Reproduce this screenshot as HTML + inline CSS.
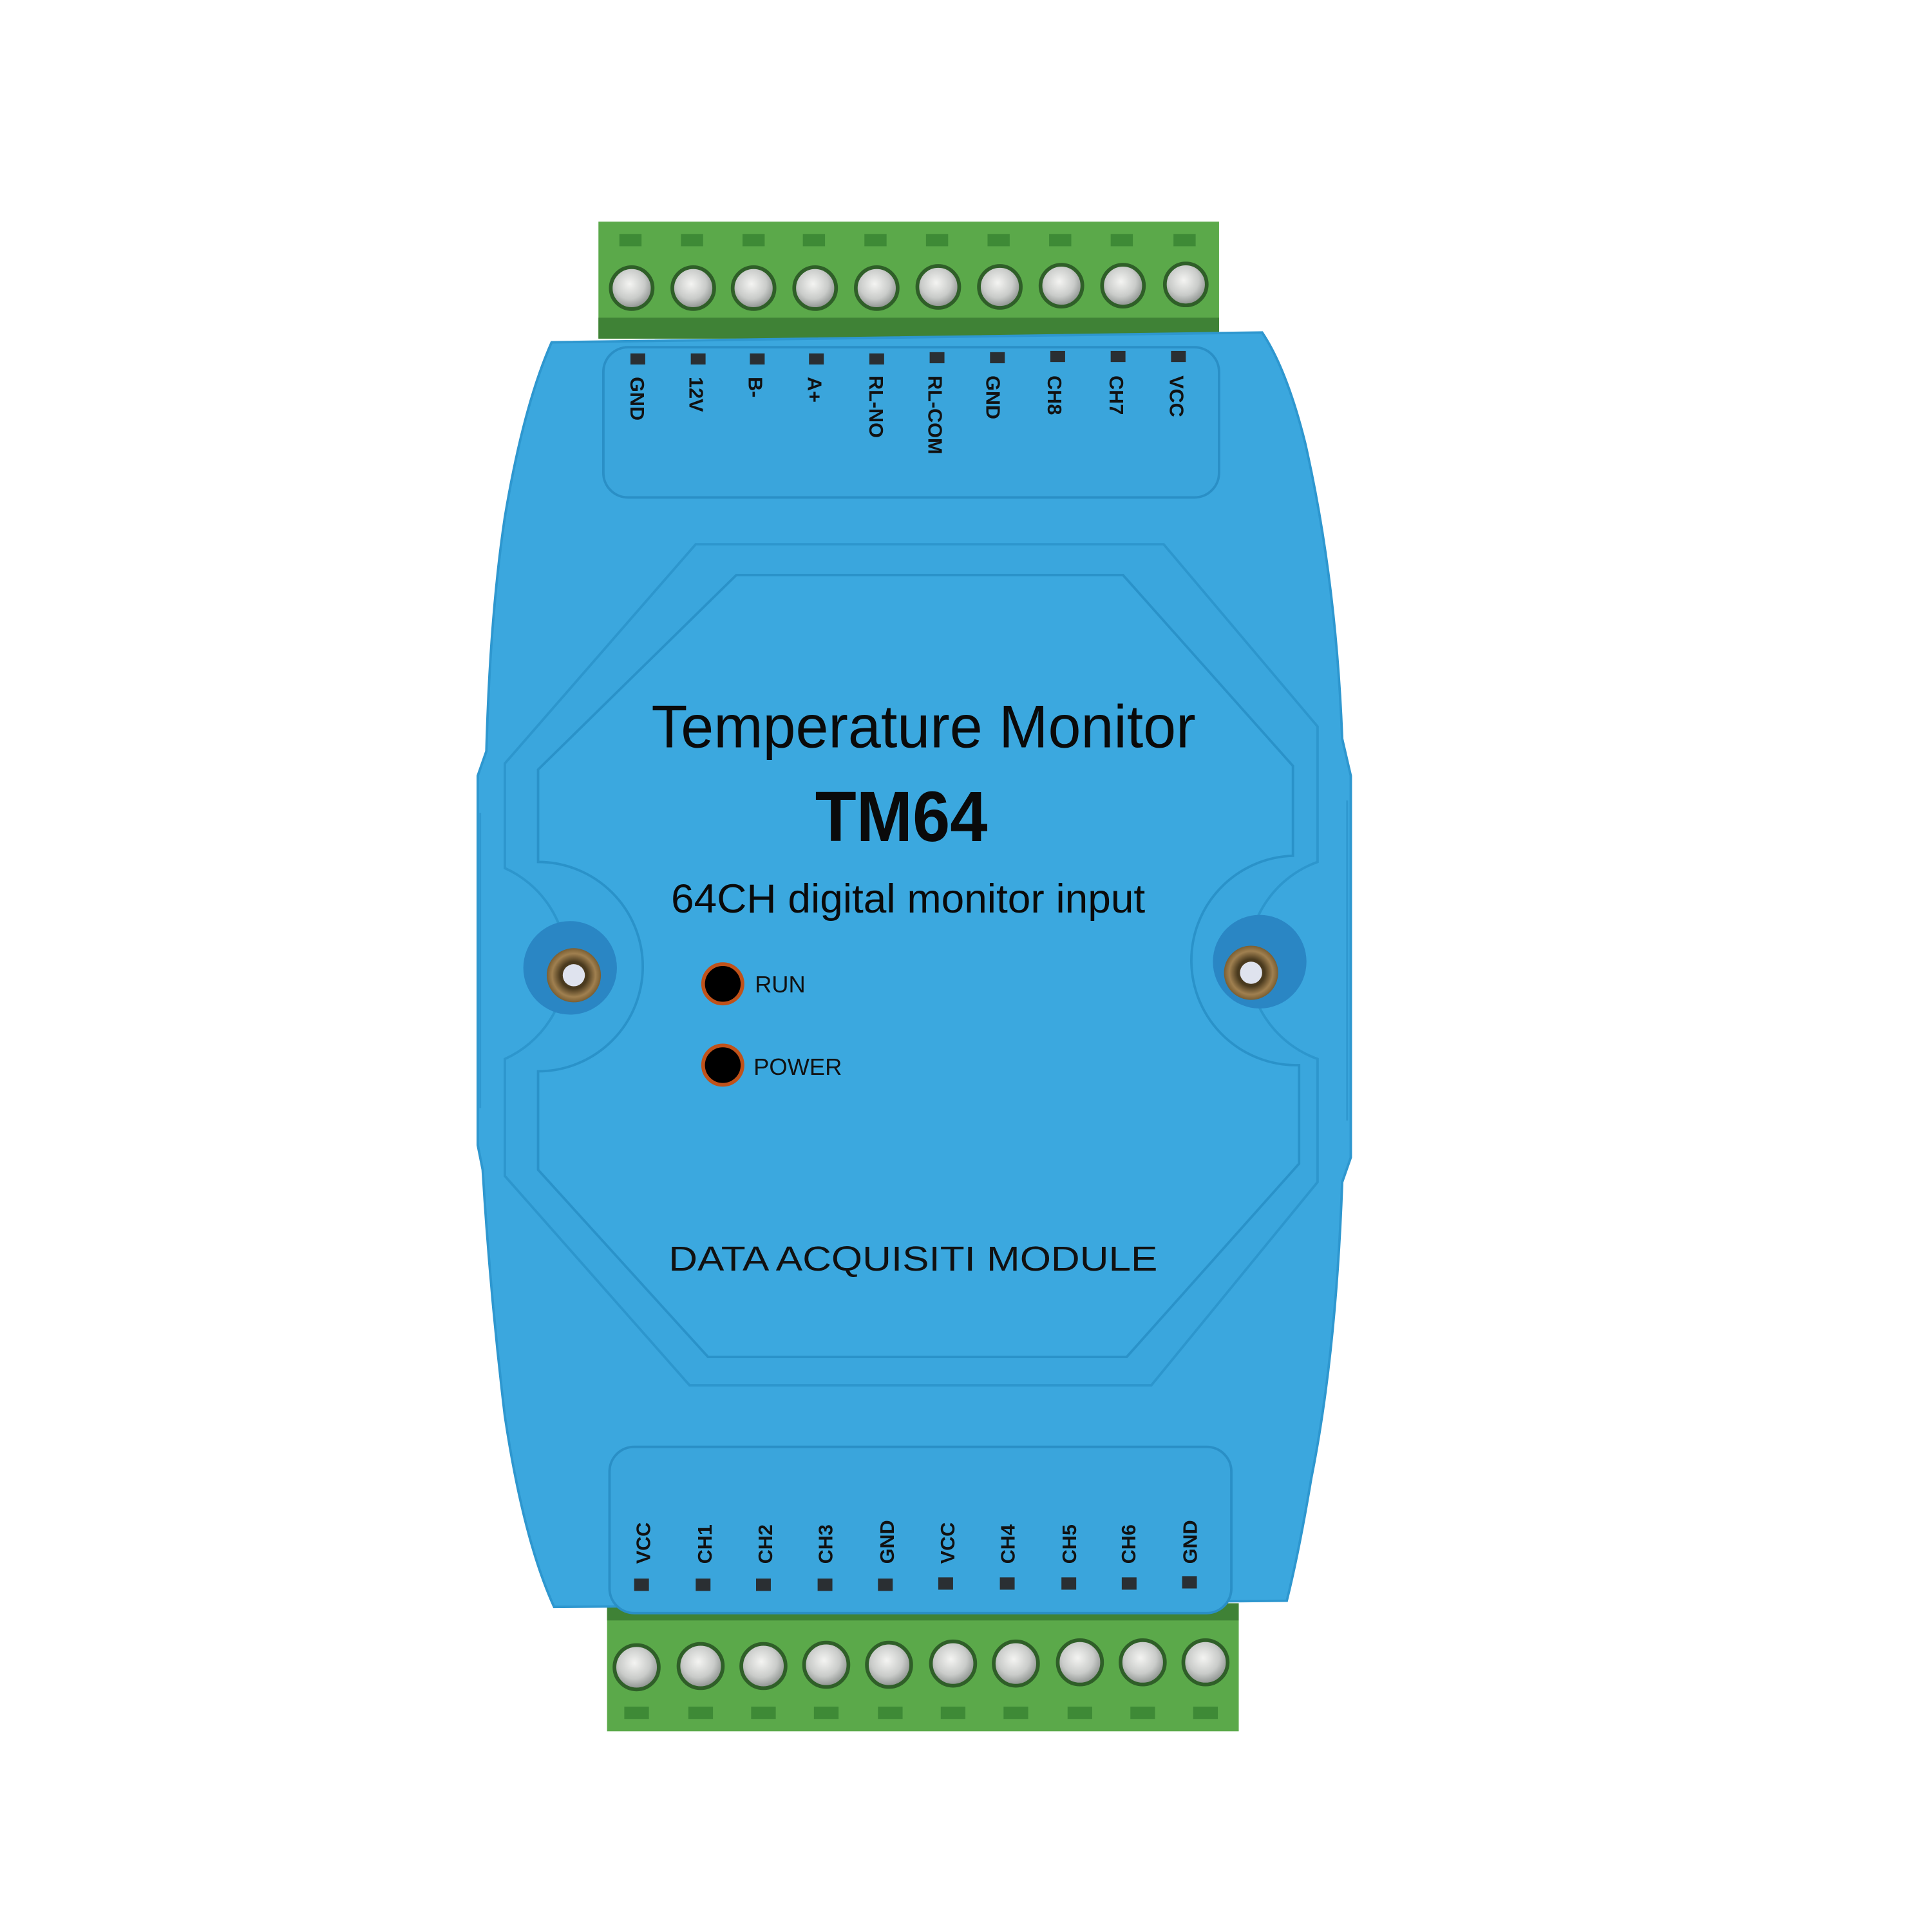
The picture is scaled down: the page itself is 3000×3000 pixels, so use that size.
<!DOCTYPE html>
<html><head><meta charset="utf-8"><style>
html,body{margin:0;padding:0;background:#fff;width:3000px;height:3000px;overflow:hidden}
svg{display:block}
text{font-family:"Liberation Sans",sans-serif}
</style></head><body>
<svg width="3000" height="3000" viewBox="0 0 1569 1569" xmlns="http://www.w3.org/2000/svg">
<defs>
<radialGradient id="scr" cx="45%" cy="40%" r="60%"><stop offset="0" stop-color="#f4f4f2"/><stop offset="0.6" stop-color="#c9cbc9"/><stop offset="1" stop-color="#8a8f8c"/></radialGradient>
<radialGradient id="brass" cx="50%" cy="50%" r="50%"><stop offset="0.5" stop-color="#4a3a1e"/><stop offset="0.8" stop-color="#a08050"/><stop offset="1" stop-color="#7a5e32"/></radialGradient>
</defs>
<rect x="486" y="180" width="504" height="95" fill="#5ba94a"/>
<rect x="486" y="258" width="504" height="17" fill="#3f8236"/>
<g fill="#3e8a36">
<rect x="503" y="190" width="18" height="10"/><rect x="553" y="190" width="18" height="10"/><rect x="603" y="190" width="18" height="10"/><rect x="652" y="190" width="18" height="10"/><rect x="702" y="190" width="18" height="10"/><rect x="752" y="190" width="18" height="10"/><rect x="802" y="190" width="18" height="10"/><rect x="852" y="190" width="18" height="10"/><rect x="902" y="190" width="18" height="10"/><rect x="953" y="190" width="18" height="10"/>
</g>
<g fill="url(#scr)" stroke="#2f5f28" stroke-width="3">
<circle cx="513" cy="234" r="17"/><circle cx="563" cy="234" r="17"/><circle cx="612" cy="234" r="17"/><circle cx="662" cy="234" r="17"/><circle cx="712" cy="234" r="17"/><circle cx="762" cy="233" r="17"/><circle cx="812" cy="233" r="17"/><circle cx="862" cy="232" r="17"/><circle cx="912" cy="232" r="17"/><circle cx="963" cy="231" r="17"/>
</g>
<rect x="493" y="1302" width="513" height="104" fill="#5ba94a"/>
<rect x="493" y="1302" width="513" height="14" fill="#3f8236"/>
<g fill="#3e8a36">
<rect x="507" y="1386" width="20" height="10"/><rect x="559" y="1386" width="20" height="10"/><rect x="610" y="1386" width="20" height="10"/><rect x="661" y="1386" width="20" height="10"/><rect x="713" y="1386" width="20" height="10"/><rect x="764" y="1386" width="20" height="10"/><rect x="815" y="1386" width="20" height="10"/><rect x="867" y="1386" width="20" height="10"/><rect x="918" y="1386" width="20" height="10"/><rect x="969" y="1386" width="20" height="10"/>
</g>
<g fill="url(#scr)" stroke="#2f5f28" stroke-width="3">
<circle cx="517" cy="1354" r="18"/><circle cx="569" cy="1353" r="18"/><circle cx="620" cy="1353" r="18"/><circle cx="671" cy="1352" r="18"/><circle cx="722" cy="1352" r="18"/><circle cx="774" cy="1351" r="18"/><circle cx="825" cy="1351" r="18"/><circle cx="877" cy="1350" r="18"/><circle cx="928" cy="1350" r="18"/><circle cx="979" cy="1350" r="18"/>
</g>
<path d="M448 278 L1025 270 Q1045 300 1060 360 Q1085 470 1090 600 L1097 630 L1097 940 L1090 960 Q1085 1100 1065 1200 Q1055 1260 1045 1300 L450 1305 Q425 1250 410 1150 Q398 1050 392 950 L388 930 L388 630 L395 610 Q398 500 410 420 Q425 330 448 278 Z" fill="#3ba7de" stroke="#2e97cf" stroke-width="2"/>
<rect x="490" y="282" width="500" height="122" rx="20" fill="#3aa5dc" stroke="#2a8fc6" stroke-width="2"/>
<rect x="495" y="1175" width="505" height="135" rx="20" fill="#3aa5dc" stroke="#2a8fc6" stroke-width="2"/>
<path d="M565 442 L945 442 L1070 590 L1070 700 A85 85 0 0 0 1070 860 L1070 960 L935 1125 L560 1125 L410 955 L410 860 A85 85 0 0 0 410 705 L410 620 Z" fill="#3aa6dd" stroke="#2d96cd" stroke-width="2"/>
<path d="M598 467 L912 467 L1050 622 L1050 695 A85 85 0 0 0 1055 865 L1055 945 L915 1102 L575 1102 L437 950 L437 870 A85 85 0 0 0 437 700 L437 625 Z" fill="#3ba8df" stroke="#2a92c9" stroke-width="2"/>
<g stroke="#2f98d0" stroke-width="1.5">
<line x1="390" y1="660" x2="390" y2="900"/><line x1="1094" y1="650" x2="1094" y2="910"/>
</g>
<g fill="#2a2f33">
<rect x="512" y="287" width="12" height="9"/><rect x="561" y="287" width="12" height="9"/><rect x="609" y="287" width="12" height="9"/><rect x="657" y="287" width="12" height="9"/><rect x="706" y="287" width="12" height="9"/><rect x="755" y="286" width="12" height="9"/><rect x="804" y="286" width="12" height="9"/><rect x="853" y="285" width="12" height="9"/><rect x="902" y="285" width="12" height="9"/><rect x="951" y="285" width="12" height="9"/>
</g>
<g fill="#111" font-size="16" font-weight="bold">
<text transform="translate(512,306) rotate(90)">GND</text>
<text transform="translate(560,306) rotate(90)">12V</text>
<text transform="translate(608,306) rotate(90)">B-</text>
<text transform="translate(656,306) rotate(90)">A+</text>
<text transform="translate(706,305) rotate(90)">RL-NO</text>
<text transform="translate(754,305) rotate(90)">RL-COM</text>
<text transform="translate(801,305) rotate(90)">GND</text>
<text transform="translate(851,305) rotate(90)">CH8</text>
<text transform="translate(901,305) rotate(90)">CH7</text>
<text transform="translate(950,305) rotate(90)">VCC</text>
</g>
<g fill="#2a2f33">
<rect x="515" y="1282" width="12" height="10"/><rect x="565" y="1282" width="12" height="10"/><rect x="614" y="1282" width="12" height="10"/><rect x="664" y="1282" width="12" height="10"/><rect x="713" y="1282" width="12" height="10"/><rect x="762" y="1281" width="12" height="10"/><rect x="812" y="1281" width="12" height="10"/><rect x="862" y="1281" width="12" height="10"/><rect x="911" y="1281" width="12" height="10"/><rect x="960" y="1280" width="12" height="10"/>
</g>
<g fill="#111" font-size="16" font-weight="bold">
<text transform="translate(528,1270) rotate(-90)">VCC</text>
<text transform="translate(578,1270) rotate(-90)">CH1</text>
<text transform="translate(627,1270) rotate(-90)">CH2</text>
<text transform="translate(676,1270) rotate(-90)">CH3</text>
<text transform="translate(726,1270) rotate(-90)">GND</text>
<text transform="translate(775,1270) rotate(-90)">VCC</text>
<text transform="translate(824,1270) rotate(-90)">CH4</text>
<text transform="translate(874,1270) rotate(-90)">CH5</text>
<text transform="translate(922,1270) rotate(-90)">CH6</text>
<text transform="translate(972,1270) rotate(-90)">GND</text>
</g>
<circle cx="463" cy="786" r="38" fill="#2a86c4"/>
<circle cx="466" cy="792" r="22" fill="url(#brass)"/>
<circle cx="466" cy="792" r="9" fill="#dfe3ee"/>
<circle cx="1023" cy="781" r="38" fill="#2a86c4"/>
<circle cx="1016" cy="790" r="22" fill="url(#brass)"/>
<circle cx="1016" cy="790" r="9" fill="#dfe3ee"/>
<text x="750" y="607" text-anchor="middle" font-size="49" fill="#0a0a0a" textLength="442" lengthAdjust="spacingAndGlyphs">Temperature Monitor</text>
<text x="732" y="683" text-anchor="middle" font-size="58" font-weight="bold" fill="#0a0a0a" textLength="140" lengthAdjust="spacingAndGlyphs">TM64</text>
<text x="545" y="741" font-size="33" fill="#0a0a0a" textLength="385" lengthAdjust="spacingAndGlyphs">64CH digital monitor input</text>
<circle cx="587" cy="799" r="16" fill="#000" stroke="#c0521a" stroke-width="3"/>
<text x="613" y="806" font-size="19" fill="#111">RUN</text>
<circle cx="587" cy="865" r="16" fill="#000" stroke="#c0521a" stroke-width="3"/>
<text x="612" y="873" font-size="19" fill="#111">POWER</text>
<text x="543" y="1032" font-size="28" fill="#111" textLength="397" lengthAdjust="spacingAndGlyphs">DATA ACQUISITI MODULE</text>
</svg>
</body></html>
